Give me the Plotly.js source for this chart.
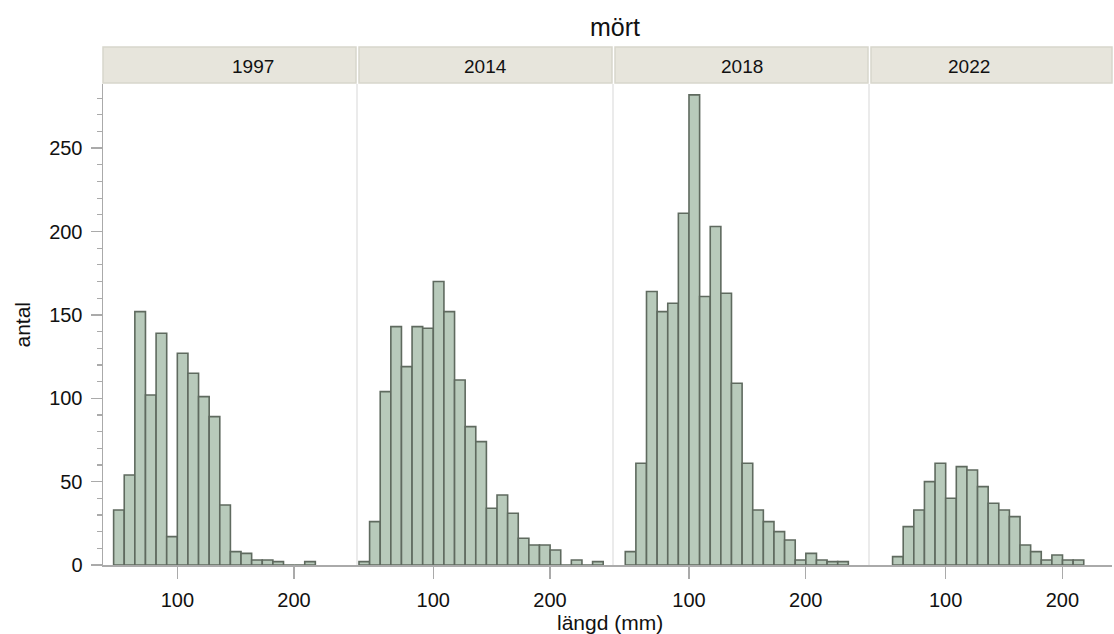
<!DOCTYPE html>
<html>
<head>
<meta charset="utf-8">
<script src="https://cdn.plot.ly/plotly-3.0.1.min.js"></script>
<style>html,body{margin:0;padding:0;background:#fff;}#chart{width:1114px;height:634px;}</style>
</head>
<body>
<div id="chart"></div>
<script>
// ---- data ----
const years = ['1997', '2014', '2018', '2022'];
const binWidth = 9.1;      // mm per bin
const binEdge = 100;       // a bin edge lies at 100 mm
const firstBin1997 = -6;
const counts1997 = [33, 54, 152, 102, 139, 17, 127, 115, 101, 89, 36, 8, 7, 3, 3, 2, 0, 0, 2];
const firstBin2014 = -7;
const counts2014 = [2, 26, 104, 143, 119, 143, 142, 170, 152, 111, 83, 74, 34, 42, 31, 16, 12, 12, 9, 0, 3, 0, 2];
const firstBin2018 = -6;
const counts2018 = [8, 61, 164, 152, 157, 211, 282, 161, 203, 163, 109, 61, 33, 26, 20, 15, 3, 7, 3, 2, 2];
const firstBin2022 = -5;
const counts2022 = [5, 23, 33, 50, 61, 40, 59, 57, 47, 37, 33, 29, 12, 8, 3, 6, 3, 3];
const xTickVals = [100, 200];
const yTickVals = [0, 50, 100, 150, 200, 250];

const series = [
  {first: firstBin1997, counts: counts1997},
  {first: firstBin2014, counts: counts2014},
  {first: firstBin2018, counts: counts2018},
  {first: firstBin2022, counts: counts2022}
];

// ---- layout geometry ----
const W = 1114, H = 634;
const mL = 103, mR = 2, mT = 84, mB = 69;
const plotW = W - mL - mR, plotH = H - mT - mB;
const panelPx = [[103, 357], [357, 613], [613, 869], [869, 1112]];
const stripPx = [[103, 356], [359, 612], [615, 868], [871, 1112]];
const xRanges = [[36.3, 254.0], [34.6, 254.0], [34.9, 254.2], [34.3, 242.5]];
const toPaperX = px => (px - mL) / plotW;

const fillCol = '#b8cabb';
const lineCol = '#5f6a5f';
const font = 'Liberation Sans, Arial, Helvetica, sans-serif';

const traces = series.map((s, k) => ({
  type: 'bar',
  x: s.counts.map((c, i) => binEdge + (s.first + i + 0.5) * binWidth),
  y: s.counts,
  width: binWidth,
  xaxis: k === 0 ? 'x' : 'x' + (k + 1),
  yaxis: 'y',
  marker: {color: fillCol, line: {color: lineCol, width: 1.6}},
  hoverinfo: 'x+y',
  showlegend: false
}));

const layout = {
  width: W, height: H,
  margin: {l: mL, r: mR, t: mT, b: mB, pad: 0},
  paper_bgcolor: '#fff', plot_bgcolor: '#fff',
  font: {family: font, size: 20, color: '#111'},
  bargap: 0,
  title: {text: 'mört', x: toPaperX(615), xref: 'paper', y: 1 - 27 / H, yref: 'container',
          xanchor: 'center', yanchor: 'middle',
          font: {family: font, size: 25, color: '#111'}},
  yaxis: {
    range: [0, 288.5], tickvals: yTickVals, ticks: 'outside', ticklen: 11, tickwidth: 1.5,
    tickcolor: '#aaa', showgrid: false, zeroline: false, showline: true, linecolor: '#aaa',
    linewidth: 1.5, anchor: 'x', tickfont: {size: 20, color: '#111'}, ticklabelstandoff: 4,
    minor: {dtick: 10, ticks: 'outside', ticklen: 5, tickcolor: '#aaa', tickwidth: 1.2, showgrid: false}
  },
  shapes: [],
  annotations: [
    {text: 'antal', xref: 'paper', yref: 'paper', x: toPaperX(22), xanchor: 'center', y: 0.5,
     textangle: -90, showarrow: false, font: {size: 21, color: '#111'}},
    {text: 'längd (mm)', xref: 'paper', yref: 'paper', x: toPaperX(610), y: 0, yshift: -57,
     yanchor: 'middle', showarrow: false, font: {size: 21, color: '#111'}}
  ]
};

panelPx.forEach((p, k) => {
  const key = k === 0 ? 'xaxis' : 'xaxis' + (k + 1);
  layout[key] = {
    domain: [toPaperX(p[0]), toPaperX(p[1])],
    range: xRanges[k], tickvals: xTickVals, ticks: 'outside', ticklen: 12, tickwidth: 1.5,
    tickcolor: '#aaa', showgrid: false, zeroline: false, showline: true, linecolor: '#aaa',
    linewidth: 1.5, anchor: 'y', tickfont: {size: 20, color: '#111'}, ticklabelstandoff: 4
  };
  const s = stripPx[k];
  layout.shapes.push({type: 'rect', xref: 'paper', yref: 'paper',
    x0: toPaperX(s[0]), x1: toPaperX(s[1]), y0: 1 + 1 / plotH, y1: 1 + 37 / plotH,
    fillcolor: '#e7e5dc', line: {color: '#d8d6cc', width: 1.5}, layer: 'below'});
  layout.annotations.push({text: years[k], xref: 'paper', yref: 'paper',
    x: (toPaperX(s[0]) + toPaperX(s[1])) / 2, y: 1 + 18 / plotH, yanchor: 'middle',
    showarrow: false, font: {size: 19, color: '#111'}});
  if (k > 0) {
    layout.shapes.push({type: 'line', xref: 'paper', yref: 'paper',
      x0: toPaperX(p[0]), x1: toPaperX(p[0]), y0: 0, y1: 1,
      line: {color: '#dedede', width: 1.2}, layer: 'below'});
  }
});

Plotly.newPlot('chart', traces, layout, {displayModeBar: false, staticPlot: true});
</script>
</body>
</html>
